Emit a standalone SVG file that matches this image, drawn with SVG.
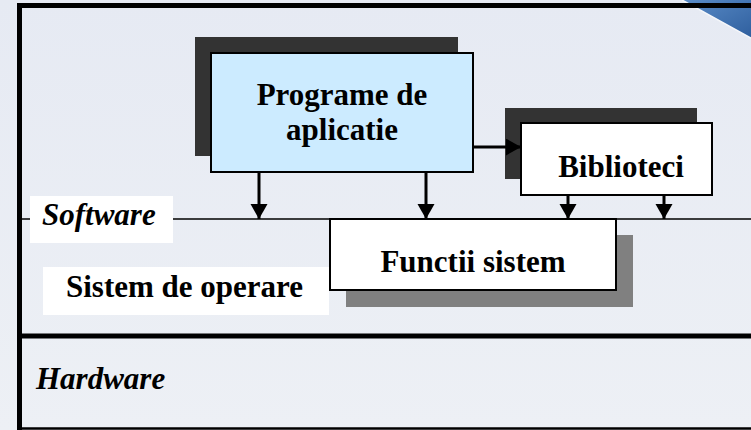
<svg xmlns="http://www.w3.org/2000/svg" width="751" height="430" viewBox="0 0 751 430">
  <defs>
    <linearGradient id="bg" x1="0" y1="0" x2="0" y2="1">
      <stop offset="0" stop-color="#E6EAF3"/>
      <stop offset="1" stop-color="#EDF0F5"/>
    </linearGradient>
    <linearGradient id="deco" x1="0" y1="0" x2="1" y2="1">
      <stop offset="0" stop-color="#5A8CC8"/>
      <stop offset="1" stop-color="#2F5F9E"/>
    </linearGradient>
    <marker id="head" markerUnits="userSpaceOnUse" markerWidth="16" markerHeight="18" refX="15" refY="8.5" orient="auto">
      <path d="M0,0 L15,8.5 L0,17 z" fill="#000"/>
    </marker>
    <style>
      .lbl { font-family: "Liberation Serif", "Times New Roman", serif; font-weight: bold; font-size: 31px; fill: #000; }
      .it { font-style: italic; }
      .shadow-dark { fill: #333333; }
      .shadow-gray { fill: #808080; }
      .box { stroke: #000; stroke-width: 2; }
      .arrow { stroke: #000; stroke-width: 3; fill: none; marker-end: url(#head); }
      .pad { fill: #FFFFFF; }
    </style>
  </defs>

  <!-- backdrop -->
  <rect width="751" height="430" fill="url(#bg)"/>
  <polygon points="682,0 751,0 751,38" fill="url(#deco)"/>
  <line x1="682" y1="0" x2="751" y2="38" stroke="#F4F6FA" stroke-width="1.5"/>

  <!-- outer frame and layer dividers -->
  <g id="frame" fill="none" stroke="#000">
    <path d="M19.5,430 V5.5 H751" stroke-width="5"/>
    <line x1="17" y1="219" x2="751" y2="219" stroke-width="1.5"/>
    <line x1="17" y1="336" x2="751" y2="336" stroke-width="5"/>
    <line x1="17" y1="428.5" x2="751" y2="428.5" stroke-width="2.5"/>
  </g>

  <!-- layer labels -->
  <g id="software-label">
    <rect class="pad" x="30" y="196" width="143" height="47"/>
    <text class="lbl it" x="42" y="225">Software</text>
  </g>
  <g id="os-label">
    <rect class="pad" x="43" y="267" width="286" height="48"/>
    <text class="lbl" x="66" y="297">Sistem de operare</text>
  </g>
  <g id="hardware-label">
    <text class="lbl it" x="36" y="389">Hardware</text>
  </g>

  <!-- nodes -->
  <g id="programe">
    <rect class="shadow-dark" x="195" y="37" width="263" height="119"/>
    <rect class="box" x="211" y="53" width="262" height="119" fill="#CCEBFF"/>
    <text class="lbl" x="342" y="105" text-anchor="middle">Programe de</text>
    <text class="lbl" x="342" y="140" text-anchor="middle">aplicatie</text>
  </g>
  <g id="biblioteci">
    <rect class="shadow-dark" x="505" y="108" width="192" height="71"/>
    <rect class="box" x="521" y="123" width="191" height="72" fill="#FFFFFF"/>
    <text class="lbl" x="621" y="177" text-anchor="middle">Biblioteci</text>
  </g>
  <g id="functii">
    <rect class="shadow-gray" x="346" y="235" width="287" height="72"/>
    <rect class="box" x="330" y="219" width="286" height="71" fill="#FFFFFF"/>
    <text class="lbl" x="473" y="272" text-anchor="middle">Functii sistem</text>
  </g>

  <!-- connectors -->
  <g id="connectors">
    <line class="arrow" x1="259" y1="172" x2="259" y2="219"/>
    <line class="arrow" x1="426" y1="172" x2="426" y2="219"/>
    <line class="arrow" x1="473" y1="147" x2="521" y2="147"/>
    <line class="arrow" x1="568" y1="195" x2="568" y2="219"/>
    <line class="arrow" x1="664" y1="195" x2="664" y2="219"/>
  </g>
</svg>
